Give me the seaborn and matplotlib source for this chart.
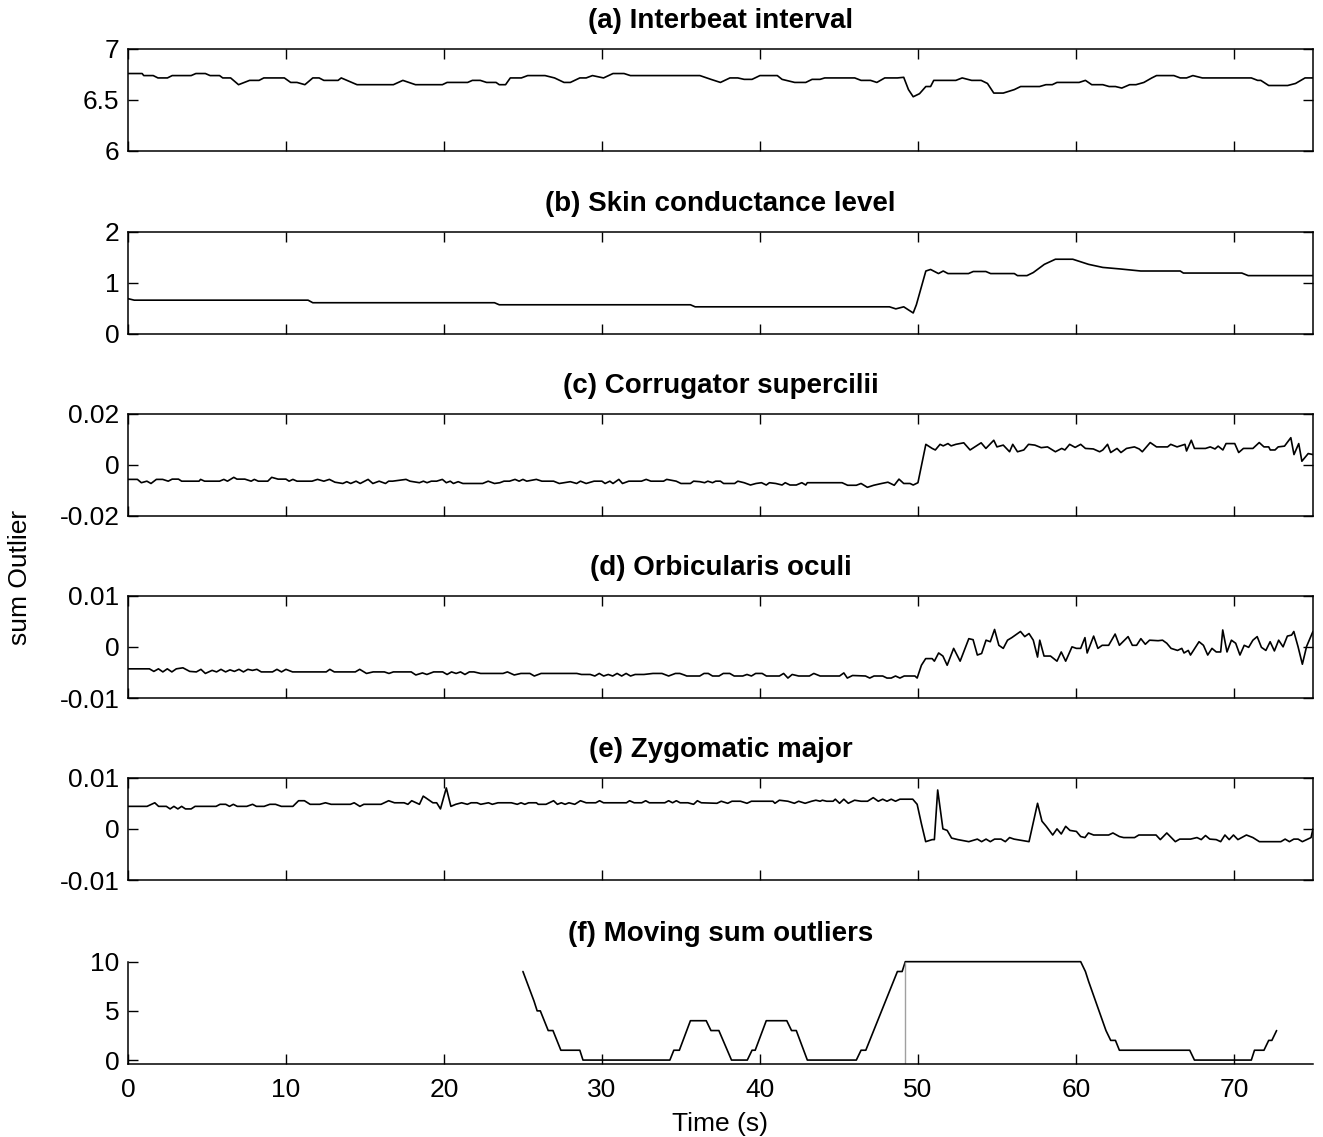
import numpy as np
import pandas as pd
import seaborn as sns
import matplotlib.pyplot as plt

# ---- data (time in s) ----
# (a) Interbeat interval
a_t = [0, 0.9, 1.0, 1.6, 1.9, 2.5, 2.8, 4.0, 4.3, 4.9,
       5.2, 5.8, 6.0, 6.5, 7.0, 7.7, 8.3, 8.6, 9.9, 10.3,
       10.7, 11.2, 11.7, 12.1, 12.4, 13.3, 13.5, 14.5, 16.8, 17.4,
       18.2, 19.9, 20.2, 21.5, 21.8, 22.3, 22.7, 23.3, 23.5, 23.9,
       24.2, 24.9, 25.3, 26.4, 27.0, 27.6, 28.0, 28.6, 29.0, 29.4,
       30.1, 30.7, 31.4, 31.8, 36.2, 36.9, 37.5, 38.1, 38.6, 39.0,
       39.5, 40.0, 41.1, 41.4, 42.2, 42.9, 43.3, 43.8, 44.1, 46.0,
       46.4, 47.0, 47.4, 47.9, 48.7, 49.1, 49.4, 49.7, 50.1, 50.5,
       50.8, 51.0, 52.4, 52.8, 53.4, 54.0, 54.4, 54.8, 55.4, 56.1,
       56.5, 57.7, 58.1, 58.5, 58.8, 60.2, 60.6, 61.0, 61.7, 62.1,
       62.5, 62.9, 63.4, 63.8, 64.3, 64.8, 65.1, 66.2, 66.6, 67.0,
       67.4, 68.0, 71.1, 71.5, 71.7, 72.2, 73.4, 73.9, 74.5, 75.0]
a_v = [6.757, 6.757, 6.737, 6.737, 6.714, 6.714, 6.737, 6.737, 6.757, 6.757,
       6.737, 6.737, 6.714, 6.714, 6.648, 6.69, 6.69, 6.714, 6.714, 6.67,
       6.67, 6.648, 6.714, 6.714, 6.69, 6.69, 6.714, 6.648, 6.648, 6.69,
       6.648, 6.648, 6.67, 6.67, 6.69, 6.69, 6.67, 6.67, 6.648, 6.648,
       6.714, 6.714, 6.737, 6.737, 6.714, 6.67, 6.67, 6.714, 6.714, 6.737,
       6.714, 6.757, 6.757, 6.737, 6.737, 6.70, 6.67, 6.714, 6.714, 6.70,
       6.70, 6.737, 6.737, 6.70, 6.67, 6.67, 6.70, 6.70, 6.714, 6.714,
       6.69, 6.69, 6.67, 6.714, 6.714, 6.72, 6.60, 6.53, 6.56, 6.63,
       6.63, 6.69, 6.69, 6.714, 6.69, 6.69, 6.66, 6.566, 6.566, 6.60,
       6.63, 6.63, 6.648, 6.648, 6.67, 6.67, 6.69, 6.648, 6.648, 6.63,
       6.63, 6.615, 6.648, 6.648, 6.67, 6.714, 6.737, 6.737, 6.714, 6.714,
       6.737, 6.714, 6.714, 6.69, 6.69, 6.64, 6.64, 6.66, 6.714, 6.714]

# (b) Skin conductance level
b_t = [0, 0.4, 11.4, 11.7, 23.2, 23.5, 35.6, 35.9, 48.2, 48.6,
       49.1, 49.7, 49.9, 50.2, 50.5, 50.8, 51.3, 51.6, 51.9, 53.2,
       53.5, 54.3, 54.6, 56.1, 56.3, 56.9, 57.3, 58.0, 58.7, 59.8,
       60.2, 60.8, 61.7, 62.8, 64.1, 66.6, 66.8, 70.5, 70.9, 75.0]
b_v = [0.69, 0.66, 0.66, 0.61, 0.61, 0.57, 0.57, 0.53, 0.53, 0.49,
       0.53, 0.41, 0.57, 0.90, 1.23, 1.26, 1.18, 1.23, 1.18, 1.18,
       1.22, 1.22, 1.18, 1.18, 1.14, 1.14, 1.20, 1.36, 1.46, 1.46,
       1.42, 1.36, 1.30, 1.27, 1.23, 1.23, 1.19, 1.19, 1.14, 1.14]

# (c) Corrugator supercilii
c_t = [0, 0.6, 0.85, 1.2, 1.46, 1.8, 2.2, 2.55, 2.8, 3.2,
       3.4, 4.5, 4.6, 4.85, 5.8, 6.07, 6.3, 6.7, 6.9, 7.4,
       7.8, 8.0, 8.25, 8.85, 9.1, 9.5, 10.0, 10.2, 10.44, 10.7,
       11.65, 12.0, 12.4, 12.75, 13.1, 13.6, 13.85, 14.1, 14.44, 14.7,
       15.2, 15.5, 15.9, 16.3, 16.5, 16.75, 17.6, 17.85, 18.45, 18.7,
       18.93, 19.2, 19.54, 19.9, 20.15, 20.4, 20.6, 20.9, 21.2, 22.45,
       22.8, 23.2, 23.54, 23.8, 24.15, 24.5, 24.76, 25.0, 25.24, 25.85,
       26.2, 26.94, 27.3, 28.0, 28.4, 28.64, 29.0, 29.5, 30.0, 30.2,
       30.5, 30.7, 31.07, 31.3, 31.7, 32.5, 32.8, 33.1, 33.9, 34.1,
       34.7, 35.0, 35.6, 35.8, 36.2, 36.5, 36.7, 37.0, 37.2, 37.5,
       37.7, 38.4, 38.6, 39.0, 39.4, 39.75, 40.1, 40.4, 40.6, 41.0,
       41.4, 41.6, 41.9, 42.3, 42.65, 42.9, 43.0, 45.2, 45.55, 46.1,
       46.4, 46.8, 47.2, 47.7, 48.1, 48.5, 48.8, 49.1, 49.5, 49.7,
       50.0, 50.5, 50.9, 51.1, 51.4, 51.6, 51.9, 52.1, 52.4, 52.9,
       53.3, 53.6, 54.0, 54.3, 54.8, 55.0, 55.4, 55.8, 56.0, 56.3,
       56.7, 57.0, 57.4, 57.8, 58.2, 58.7, 59.1, 59.3, 59.6, 59.95,
       60.3, 60.6, 61.1, 61.5, 61.7, 62.0, 62.2, 62.6, 62.85, 63.2,
       63.7, 64.0, 64.2, 64.7, 65.1, 65.8, 66.0, 66.4, 66.9, 67.0,
       67.3, 67.5, 68.2, 68.5, 68.8, 69.0, 69.3, 69.5, 70.05, 70.3,
       70.6, 71.2, 71.6, 71.9, 72.2, 72.3, 72.6, 72.8, 73.2, 73.6,
       73.8, 74.1, 74.3, 74.7, 75.0]
c_v = [-0.0057, -0.0057, -0.0070, -0.0064, -0.0073, -0.0057, -0.0057, -0.0064, -0.0056, -0.0056,
       -0.0064, -0.0064, -0.0057, -0.0064, -0.0064, -0.0057, -0.0064, -0.0049, -0.0056, -0.0056,
       -0.0064, -0.0057, -0.0064, -0.0064, -0.0049, -0.0056, -0.0056, -0.0064, -0.0057, -0.0064,
       -0.0064, -0.0057, -0.0064, -0.0057, -0.0068, -0.0073, -0.0066, -0.0073, -0.0064, -0.0073,
       -0.0057, -0.0073, -0.0064, -0.0073, -0.0064, -0.0064, -0.0057, -0.0064, -0.0070, -0.0064,
       -0.0070, -0.0064, -0.0064, -0.0057, -0.0070, -0.0064, -0.0073, -0.0066, -0.0073, -0.0073,
       -0.0064, -0.0073, -0.0070, -0.0064, -0.0064, -0.0057, -0.0064, -0.0057, -0.0064, -0.0057,
       -0.0064, -0.0064, -0.0073, -0.0066, -0.0073, -0.0064, -0.0073, -0.0064, -0.0064, -0.0073,
       -0.0064, -0.0073, -0.0057, -0.0073, -0.0064, -0.0064, -0.0057, -0.0064, -0.0064, -0.0057,
       -0.0064, -0.0073, -0.0073, -0.0064, -0.0066, -0.0070, -0.0064, -0.0070, -0.0064, -0.0064,
       -0.0073, -0.0073, -0.0064, -0.0070, -0.0079, -0.0073, -0.0070, -0.0079, -0.0070, -0.0073,
       -0.0079, -0.0070, -0.0079, -0.0079, -0.0070, -0.0079, -0.0070, -0.0070, -0.0080, -0.0080,
       -0.0073, -0.0088, -0.0080, -0.0073, -0.0068, -0.0080, -0.0056, -0.0073, -0.0073, -0.0079,
       -0.0070, 0.0080, 0.0064, 0.0058, 0.0080, 0.0074, 0.0083, 0.0074, 0.0080, 0.0086,
       0.0058, 0.0070, 0.0086, 0.0064, 0.0096, 0.0070, 0.0077, 0.0051, 0.0080, 0.0051,
       0.0058, 0.0080, 0.0077, 0.0067, 0.0070, 0.0051, 0.0064, 0.0058, 0.0080, 0.0068,
       0.0080, 0.0064, 0.0062, 0.0051, 0.0058, 0.0080, 0.0048, 0.0064, 0.0048, 0.0064,
       0.0070, 0.0062, 0.0051, 0.0087, 0.0070, 0.0070, 0.0080, 0.0070, 0.0080, 0.0054,
       0.0096, 0.0064, 0.0064, 0.0070, 0.0062, 0.0073, 0.0058, 0.0083, 0.0083, 0.0048,
       0.0064, 0.0064, 0.0087, 0.0070, 0.0070, 0.0058, 0.0058, 0.0070, 0.0073, 0.0106,
       0.0040, 0.0083, 0.0014, 0.0044, 0.0040]

# (d) Orbicularis oculi
d_t = [0, 1.36, 1.64, 1.93, 2.21, 2.49, 2.78, 3.06, 3.48, 3.91,
       4.33, 4.62, 4.90, 5.33, 5.61, 5.89, 6.18, 6.46, 6.74, 7.03,
       7.31, 7.59, 7.88, 8.16, 8.44, 9.15, 9.43, 9.72, 10.0, 10.42,
       12.55, 12.78, 13.06, 14.39, 14.67, 15.1, 15.52, 16.23, 16.52, 16.8,
       17.93, 18.22, 18.64, 18.92, 19.35, 19.92, 20.2, 20.48, 20.77, 21.05,
       21.33, 21.61, 21.9, 22.32, 23.74, 24.02, 24.45, 24.87, 25.44, 25.72,
       26.15, 28.41, 28.7, 29.26, 29.55, 29.83, 30.11, 30.4, 30.68, 30.96,
       31.25, 31.53, 31.81, 32.1, 32.66, 33.23, 33.8, 34.22, 34.65, 34.93,
       35.21, 35.37, 36.19, 36.46, 36.73, 37.0, 37.41, 37.68, 38.09, 38.37,
       38.91, 39.18, 39.46, 39.73, 40.14, 40.41, 41.23, 41.5, 41.77, 42.04,
       42.45, 43.13, 43.41, 43.81, 45.04, 45.31, 45.53, 45.86, 46.68, 46.95,
       47.22, 47.77, 48.04, 48.31, 48.58, 48.86, 49.13, 49.81, 49.95, 50.22,
       50.49, 50.9, 51.04, 51.31, 51.58, 51.85, 52.26, 52.67, 53.22, 53.49,
       53.76, 54.03, 54.31, 54.58, 54.85, 55.12, 55.4, 55.67, 55.94, 56.21,
       56.49, 56.76, 57.03, 57.3, 57.57, 57.71, 57.98, 58.39, 58.8, 59.07,
       59.35, 59.75, 60.03, 60.3, 60.57, 60.71, 61.12, 61.39, 61.66, 62.07,
       62.48, 62.75, 63.3, 63.57, 63.84, 64.11, 64.39, 64.66, 65.2, 65.48,
       65.75, 66.02, 66.43, 66.7, 66.84, 67.11, 67.25, 67.52, 67.79, 68.07,
       68.34, 68.61, 68.88, 69.16, 69.29, 69.56, 69.84, 70.11, 70.38, 70.65,
       70.93, 71.2, 71.47, 71.74, 72.02, 72.29, 72.56, 72.83, 73.11, 73.38,
       73.65, 73.79, 74.06, 74.33, 74.6, 75.0]
d_v = [-0.0043, -0.0043, -0.0048, -0.0043, -0.0049, -0.0043, -0.0049, -0.0043, -0.0041, -0.0048,
       -0.0049, -0.0044, -0.0052, -0.0046, -0.0049, -0.0044, -0.0049, -0.0045, -0.0048, -0.0044,
       -0.0049, -0.0044, -0.0046, -0.0044, -0.0049, -0.0049, -0.0044, -0.0049, -0.0044, -0.0049,
       -0.0049, -0.0044, -0.0049, -0.0049, -0.0044, -0.0052, -0.0049, -0.0049, -0.0052, -0.0049,
       -0.0049, -0.0055, -0.0051, -0.0054, -0.0049, -0.0049, -0.0054, -0.0049, -0.0052, -0.0049,
       -0.0054, -0.0049, -0.0049, -0.0052, -0.0052, -0.0049, -0.0055, -0.0052, -0.0052, -0.0057,
       -0.0052, -0.0052, -0.0054, -0.0054, -0.0057, -0.0052, -0.0057, -0.0054, -0.0057, -0.0052,
       -0.0057, -0.0052, -0.0057, -0.0054, -0.0054, -0.0052, -0.0052, -0.0057, -0.0052, -0.0052,
       -0.0055, -0.0057, -0.0057, -0.0052, -0.0052, -0.0057, -0.0057, -0.0052, -0.0052, -0.0057,
       -0.0057, -0.0054, -0.0057, -0.0052, -0.0052, -0.0057, -0.0057, -0.0052, -0.0061, -0.0054,
       -0.0057, -0.0057, -0.0052, -0.0057, -0.0057, -0.0051, -0.0061, -0.0056, -0.0057, -0.0061,
       -0.0057, -0.0057, -0.0061, -0.0061, -0.0057, -0.0061, -0.0057, -0.0057, -0.0061, -0.0036,
       -0.0023, -0.0023, -0.0028, -0.0012, -0.0018, -0.0036, -0.0003, -0.0028, 0.0016, 0.0014,
       -0.0016, -0.0013, 0.0013, 0.0010, 0.0034, 0.0003, -0.0003, 0.0013, 0.0018, 0.0024,
       0.0030, 0.0020, 0.0026, 0.0013, -0.0020, 0.0013, -0.0018, -0.0018, -0.0028, -0.0010,
       -0.0028, 0.0000, -0.0003, -0.0003, 0.0018, -0.0012, 0.0021, -0.0003, 0.0003, 0.0003,
       0.0025, 0.0003, 0.0020, 0.0003, 0.0003, 0.0016, 0.0005, 0.0013, 0.0012, 0.0013,
       0.0007, -0.0003, -0.0007, -0.0003, -0.0012, -0.0007, -0.0016, -0.0003, 0.0010, 0.0003,
       -0.0016, -0.0003, -0.0010, -0.0010, 0.0033, -0.0010, 0.0013, 0.0007, -0.0016, 0.0003,
       -0.0001, 0.0013, 0.0020, -0.0001, -0.0007, 0.0010, -0.0008, 0.0013, 0.0000, 0.0021,
       0.0023, 0.0030, 0.0000, -0.0034, 0.0001, 0.0030]

# (e) Zygomatic major
e_t = [0, 1.21, 1.70, 1.94, 2.43, 2.67, 2.91, 3.16, 3.40, 3.64,
       4.0, 4.25, 5.58, 5.83, 6.19, 6.43, 6.67, 6.92, 7.52, 7.89,
       8.13, 8.62, 8.98, 9.34, 9.71, 10.44, 10.8, 11.17, 11.53, 12.14,
       12.5, 12.86, 14.08, 14.32, 14.68, 14.93, 16.02, 16.5, 16.87, 17.48,
       17.72, 17.96, 18.45, 18.69, 18.93, 19.3, 19.54, 19.78, 20.15, 20.44,
       20.75, 21.12, 21.48, 21.72, 22.09, 22.33, 22.82, 23.06, 23.42, 24.27,
       24.64, 24.88, 25.12, 25.36, 25.85, 25.97, 26.46, 26.94, 27.18, 27.43,
       27.67, 27.91, 28.28, 28.64, 29.0, 29.61, 29.85, 30.1, 31.55, 31.75,
       32.04, 32.52, 32.77, 33.0, 33.98, 34.22, 34.47, 34.71, 34.95, 35.44,
       35.8, 36.04, 36.29, 37.28, 37.55, 37.96, 38.23, 38.77, 39.18, 39.46,
       40.82, 40.95, 41.23, 41.77, 42.18, 42.45, 42.86, 43.27, 43.54, 43.81,
       43.95, 44.22, 44.63, 44.77, 45.04, 45.31, 45.59, 45.99, 46.4, 46.81,
       47.17, 47.49, 47.77, 48.04, 48.31, 48.58, 48.86, 49.67, 49.95, 50.22,
       50.49, 50.9, 51.04, 51.25, 51.58, 51.85, 52.13, 52.53, 53.22, 53.76,
       54.03, 54.31, 54.58, 54.85, 55.26, 55.53, 55.8, 56.08, 57.03, 57.57,
       57.85, 58.12, 58.53, 58.8, 59.07, 59.35, 59.62, 60.03, 60.3, 60.57,
       60.79, 61.12, 62.07, 62.34, 62.75, 63.02, 63.71, 63.98, 65.07, 65.34,
       65.75, 66.29, 66.57, 67.25, 67.66, 67.93, 68.2, 68.47, 68.88, 69.16,
       69.43, 69.7, 69.97, 70.25, 70.79, 71.2, 71.61, 72.97, 73.24, 73.51,
       73.79, 74.06, 74.33, 74.88, 75.0]
e_v = [0.0044, 0.0044, 0.0051, 0.0044, 0.0044, 0.0039, 0.0044, 0.0039, 0.0044, 0.0039,
       0.0039, 0.0044, 0.0044, 0.0048, 0.0048, 0.0044, 0.0048, 0.0044, 0.0044, 0.0048,
       0.0044, 0.0044, 0.0048, 0.0048, 0.0044, 0.0044, 0.0055, 0.0055, 0.0048, 0.0048,
       0.0051, 0.0048, 0.0048, 0.0051, 0.0044, 0.0048, 0.0048, 0.0055, 0.0051, 0.0051,
       0.0048, 0.0055, 0.0048, 0.0064, 0.0059, 0.0051, 0.0051, 0.0039, 0.0080, 0.0044,
       0.0048, 0.0051, 0.0048, 0.0051, 0.0051, 0.0048, 0.0051, 0.0048, 0.0051, 0.0051,
       0.0048, 0.0051, 0.0048, 0.0051, 0.0051, 0.0048, 0.0048, 0.0055, 0.0048, 0.0051,
       0.0048, 0.0051, 0.0048, 0.0055, 0.0051, 0.0051, 0.0055, 0.0051, 0.0051, 0.0055,
       0.0051, 0.0051, 0.0055, 0.0051, 0.0051, 0.0055, 0.0051, 0.0055, 0.0051, 0.0051,
       0.0048, 0.0055, 0.0051, 0.0050, 0.0054, 0.0050, 0.0054, 0.0054, 0.0050, 0.0054,
       0.0054, 0.0050, 0.0056, 0.0054, 0.0050, 0.0054, 0.0050, 0.0054, 0.0056, 0.0054,
       0.0056, 0.0054, 0.0054, 0.0058, 0.0050, 0.0058, 0.0050, 0.0056, 0.0054, 0.0054,
       0.0061, 0.0054, 0.0058, 0.0054, 0.0058, 0.0054, 0.0058, 0.0058, 0.0048, 0.0010,
       -0.0025, -0.0021, -0.0021, 0.0076, 0.0000, -0.0003, -0.0018, -0.0021, -0.0025, -0.0020,
       -0.0025, -0.0020, -0.0025, -0.0020, -0.0020, -0.0025, -0.0017, -0.0020, -0.0025, 0.0050,
       0.0015, 0.0005, -0.0012, 0.0000, -0.0010, 0.0005, -0.0003, -0.0005, -0.0015, -0.0017,
       -0.0008, -0.0012, -0.0012, -0.0008, -0.0015, -0.0017, -0.0017, -0.0012, -0.0012, -0.0021,
       -0.0008, -0.0025, -0.0020, -0.0020, -0.0017, -0.0021, -0.0013, -0.0020, -0.0021, -0.0025,
       -0.0012, -0.0021, -0.0012, -0.0021, -0.0012, -0.0017, -0.0025, -0.0025, -0.0020, -0.0025,
       -0.0020, -0.0020, -0.0025, -0.0017, 0.0000]

# (f) Moving sum outliers
f_t = [25.0, 25.7, 25.9, 26.1, 26.6, 26.9, 27.4, 28.6, 28.8, 34.3,
       34.55, 34.9, 35.6, 36.6, 36.9, 37.4, 38.2, 39.2, 39.5, 39.7,
       40.4, 41.7, 42.0, 42.3, 43.0, 46.1, 46.4, 46.7, 48.7, 49.0,
       49.2, 60.3, 60.6, 60.8, 61.9, 62.2, 62.5, 62.75, 67.2, 67.5,
       71.1, 71.3, 71.9, 72.2, 72.4, 72.7]
f_v = [9, 6, 5, 5, 3, 3, 1, 1, 0, 0,
       1, 1, 4, 4, 3, 3, 0, 0, 1, 1,
       4, 4, 3, 3, 0, 0, 1, 1, 9, 9,
       10, 10, 9, 8, 3, 2, 2, 1, 1, 0,
       0, 1, 1, 2, 2, 3]
f_mark_t = 49.2   # grey marker line in panel (f)

titles = ['(a) Interbeat interval', '(b) Skin conductance level',
          '(c) Corrugator supercilii', '(d) Orbicularis oculi',
          '(e) Zygomatic major', '(f) Moving sum outliers']
y_lims = [(6, 7), (0, 2), (-0.02, 0.02), (-0.01, 0.01), (-0.01, 0.01), (-0.4, 10)]
y_ticks = [[6, 6.5, 7], [0, 1, 2], [-0.02, 0, 0.02], [-0.01, 0, 0.01],
           [-0.01, 0, 0.01], [0, 5, 10]]
y_ticklabels = [['6', '6.5', '7'], ['0', '1', '2'], ['-0.02', '0', '0.02'],
                ['-0.01', '0', '0.01'], ['-0.01', '0', '0.01'], ['0', '5', '10']]
x_ticks = [0, 10, 20, 30, 40, 50, 60, 70]

series = [(a_t, a_v), (b_t, b_v), (c_t, c_v), (d_t, d_v), (e_t, e_v), (f_t, f_v)]

# ---- style ----
sns.set_style("ticks")
plt.rcParams['font.family'] = ['Liberation Sans', 'DejaVu Sans']
plt.rcParams.update({'text.color': 'black', 'axes.labelcolor': 'black',
                     'xtick.color': 'black', 'ytick.color': 'black',
                     'axes.edgecolor': 'black'})

fig = plt.figure(figsize=(13.23, 11.37), dpi=100)

left, width = 0.0967, 0.8957
bottoms = [0.8672, 0.7063, 0.5462, 0.3861, 0.2260, 0.0642]
height = 0.0900

for i, (t, v) in enumerate(series):
    ax = fig.add_axes([left, bottoms[i], width, height])
    df = pd.DataFrame({'t': t, 'v': v})
    sns.lineplot(data=df, x='t', y='v', ax=ax, color='black', linewidth=1.2,
                 sort=False, estimator=None)
    ax.set_xlim(0, 75)
    ax.set_ylim(*y_lims[i])
    ax.set_yticks(y_ticks[i])
    ax.set_yticklabels(y_ticklabels[i])
    ax.set_xticks(x_ticks)
    ax.set_ylabel('')
    ax.set_title(titles[i], fontsize=20, fontweight='bold', pad=15)
    for s in ax.spines.values():
        s.set_linewidth(1.1)
    if i < 5:
        ax.set_xlabel('')
        ax.tick_params(direction='in', top=True, right=True, length=7, width=1,
                       labelsize=19, labelbottom=False, pad=6)
    else:
        ax.lines[0].set_clip_on(False)
        ax.spines['top'].set_visible(False)
        ax.spines['right'].set_visible(False)
        ax.tick_params(direction='in', length=7, width=1, labelsize=19, pad=6)
        ax.tick_params(axis='x', pad=10)
        ax.vlines(f_mark_t, y_lims[i][0], y_ticks[i][-1], color='#a0a0a0', linewidth=1)
        ax.set_xlabel('Time (s)', fontsize=19, labelpad=7)

fig.text(0.015, 0.4917, 'sum Outlier', rotation=90, ha='center', va='center', fontsize=19)

fig.savefig('out.png', dpi=100)
